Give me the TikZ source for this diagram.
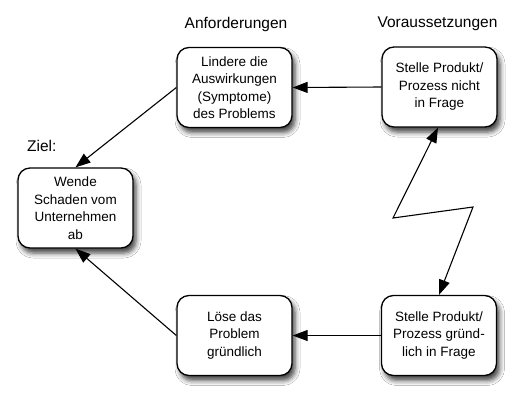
\documentclass[tikz,border=0pt]{standalone}
\usepackage{fontspec}
\setmainfont{Liberation Sans}
\usetikzlibrary{arrows.meta,shadows.blur}
\tikzset{
  box/.style={draw=black, line width=1.3pt, rounded corners=12pt, fill=white,
    minimum width=115pt, minimum height=80pt, align=center,
    font=\fontsize{13.5}{17.5}\selectfont, inner sep=2pt,
    blur shadow={shadow xshift=3pt, shadow yshift=-5pt, shadow blur radius=5pt, shadow opacity=75}},
  lbl/.style={font=\fontsize{15.5}{18}\selectfont, inner sep=0pt},
  conn/.style={line width=1.1pt, -{Triangle[length=15pt,width=11pt]}},
  bolt/.style={line width=1.1pt, {Triangle[length=15pt,width=11pt]}-{Triangle[length=15pt,width=11pt]}},
}
\begin{document}
\begin{tikzpicture}[x=1pt,y=-1pt]
\useasboundingbox[fill=white] (0,0) rectangle (525,405);
\node[box] (ziel) at (75.5,208) {Wende\\Schaden vom\\Unternehmen\\ab};
\node[box] (lind) at (234.5,87.5) {Lindere die\\Auswirkungen\\(Symptome)\\des Problems};
\node[box] (nicht) at (439.5,87) {Stelle Produkt/\\Prozess nicht\\in Frage};
\node[box] (grund) at (439,335.5) {Stelle Produkt/\\Prozess gr\"und-\\lich in Frage};
\node[box] (loese) at (234.5,335.5) {L\"ose das\\Problem\\gr\"undlich};
\node[lbl] (anf) at (236,24) {Anforderungen};
\node[lbl] (vor) at (437.5,24) {Voraussetzungen};
\node[lbl, anchor=west] (zl) at (27,146) {Ziel:};
\coordinate (z1) at (393,218);
\coordinate (z2) at (473,207);
\draw[conn] (nicht.west) -- (lind.east);
\draw[conn] (lind.west) -- (ziel.north);
\draw[conn] (grund.west) -- (loese.east);
\draw[conn] (loese.west) -- (ziel.south);
\draw[bolt] ([xshift=-1.5pt]nicht.south) -- (z1) -- (z2) -- (grund.north);
\end{tikzpicture}
\end{document}
